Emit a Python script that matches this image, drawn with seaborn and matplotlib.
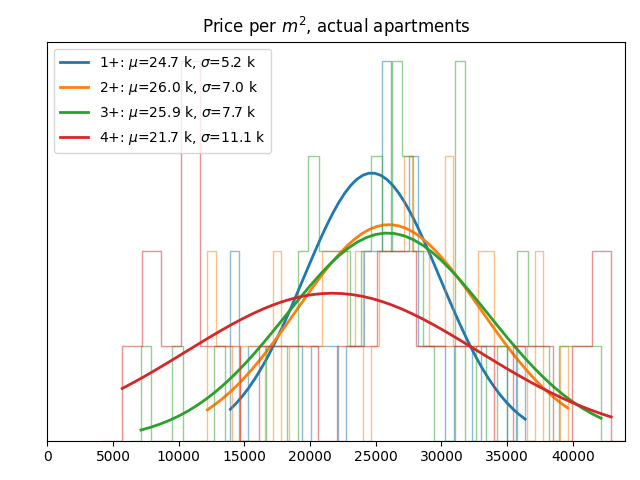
import numpy as np
import matplotlib
matplotlib.use("Agg")
import matplotlib.pyplot as plt
import seaborn as sns

# ------------------------------------------
# Data
# ------------------------------------------

groups = ['1+', '2+', '3+', '4+']
colors = ['#1f77b4', '#ff7f0e', '#2ca02c', '#d62728']

# price range of each group, rub per m2
price_min = [13930, 12180, 7130, 5700]
price_max = [36380, 39620, 42160, 42930]

# fitted normal parameters, thousands of rub
mu = [24.7, 26.0, 25.9, 21.7]
sigma = [5.2, 7.0, 7.7, 11.1]

# apartments per group (sets the height of the fitted curve)
n_apts = [54, 64, 53, 29]

# histogram counts per bin, bins spread evenly over [price_min, price_max]
counts_1 = [2, 0, 1, 1, 1, 1, 1, 1, 0, 1, 1, 1, 0, 1, 1, 2, 2, 4, 2, 2, 3,
            1, 1, 1, 0, 1, 1, 0, 1, 1, 1, 0, 1]
counts_2 = [2, 1, 1, 0, 1, 1, 1, 0, 2, 0, 1, 1, 1, 1, 2, 2, 2, 1, 2, 0, 1,
            2, 2, 2, 3, 2, 2, 1, 1, 3, 1, 1, 1, 2, 2, 1, 1, 1, 1, 0, 2, 0,
            0, 1]
counts_3 = [1, 0, 0, 1, 0, 0, 0, 1, 0, 0, 0, 0, 1, 1, 0, 2, 3, 2, 2, 2, 1,
            2, 3, 2, 4, 3, 2, 1, 0, 0, 4, 0, 1, 0, 1, 0, 2, 1, 1, 0, 1, 1,
            1, 1]
counts_4 = [1, 2, 1, 4, 1, 1, 0, 1, 1, 1, 0, 1, 1, 2, 2, 1, 1, 1, 1, 0, 1,
            1, 0, 1, 2]

all_counts = [counts_1, counts_2, counts_3, counts_4]

# ------------------------------------------
# Plot
# ------------------------------------------

fig, ax = plt.subplots(figsize=(6.4, 4.8), dpi=100)

for g, c, lo, hi, m, s, n, cnt in zip(groups, colors, price_min, price_max,
                                      mu, sigma, n_apts, all_counts):
    nbins = len(cnt)
    bw = (hi - lo) / nbins
    # one empty bin on each side so the outline closes at the ends
    padded = [0] + list(cnt) + [0]
    edges = np.linspace(lo - bw, hi + bw, nbins + 3)
    centers = (edges[:-1] + edges[1:]) / 2
    sns.histplot(x=centers, weights=padded, bins=nbins + 2,
                 binrange=(lo - bw, hi + bw),
                 element='step', fill=False, color=c, alpha=0.5,
                 linewidth=1, ax=ax)

    # normal curve scaled to counts
    xs = np.linspace(lo, hi, 50)
    mm, ss = m * 1000, s * 1000
    pdf = np.exp(-0.5 * ((xs - mm) / ss) ** 2) / (ss * np.sqrt(2 * np.pi))
    sns.lineplot(x=xs, y=pdf * n * bw, color=c, linewidth=2, ax=ax,
                 label=f'{g}: $\\mu$={m:.1f} k, $\\sigma$={s:.1f} k')

ax.set_xlim(0, 44000)
ax.set_ylim(0, 4.2)
ax.set_yticks([])
ax.set_ylabel('')
ax.set_xlabel('')
ax.set_title('Price per $m^2$, actual apartments')
ax.legend(loc='upper left')

plt.subplots_adjust(left=0.074, right=0.977, bottom=0.082, top=0.913)
plt.savefig('out.png', dpi=100)
